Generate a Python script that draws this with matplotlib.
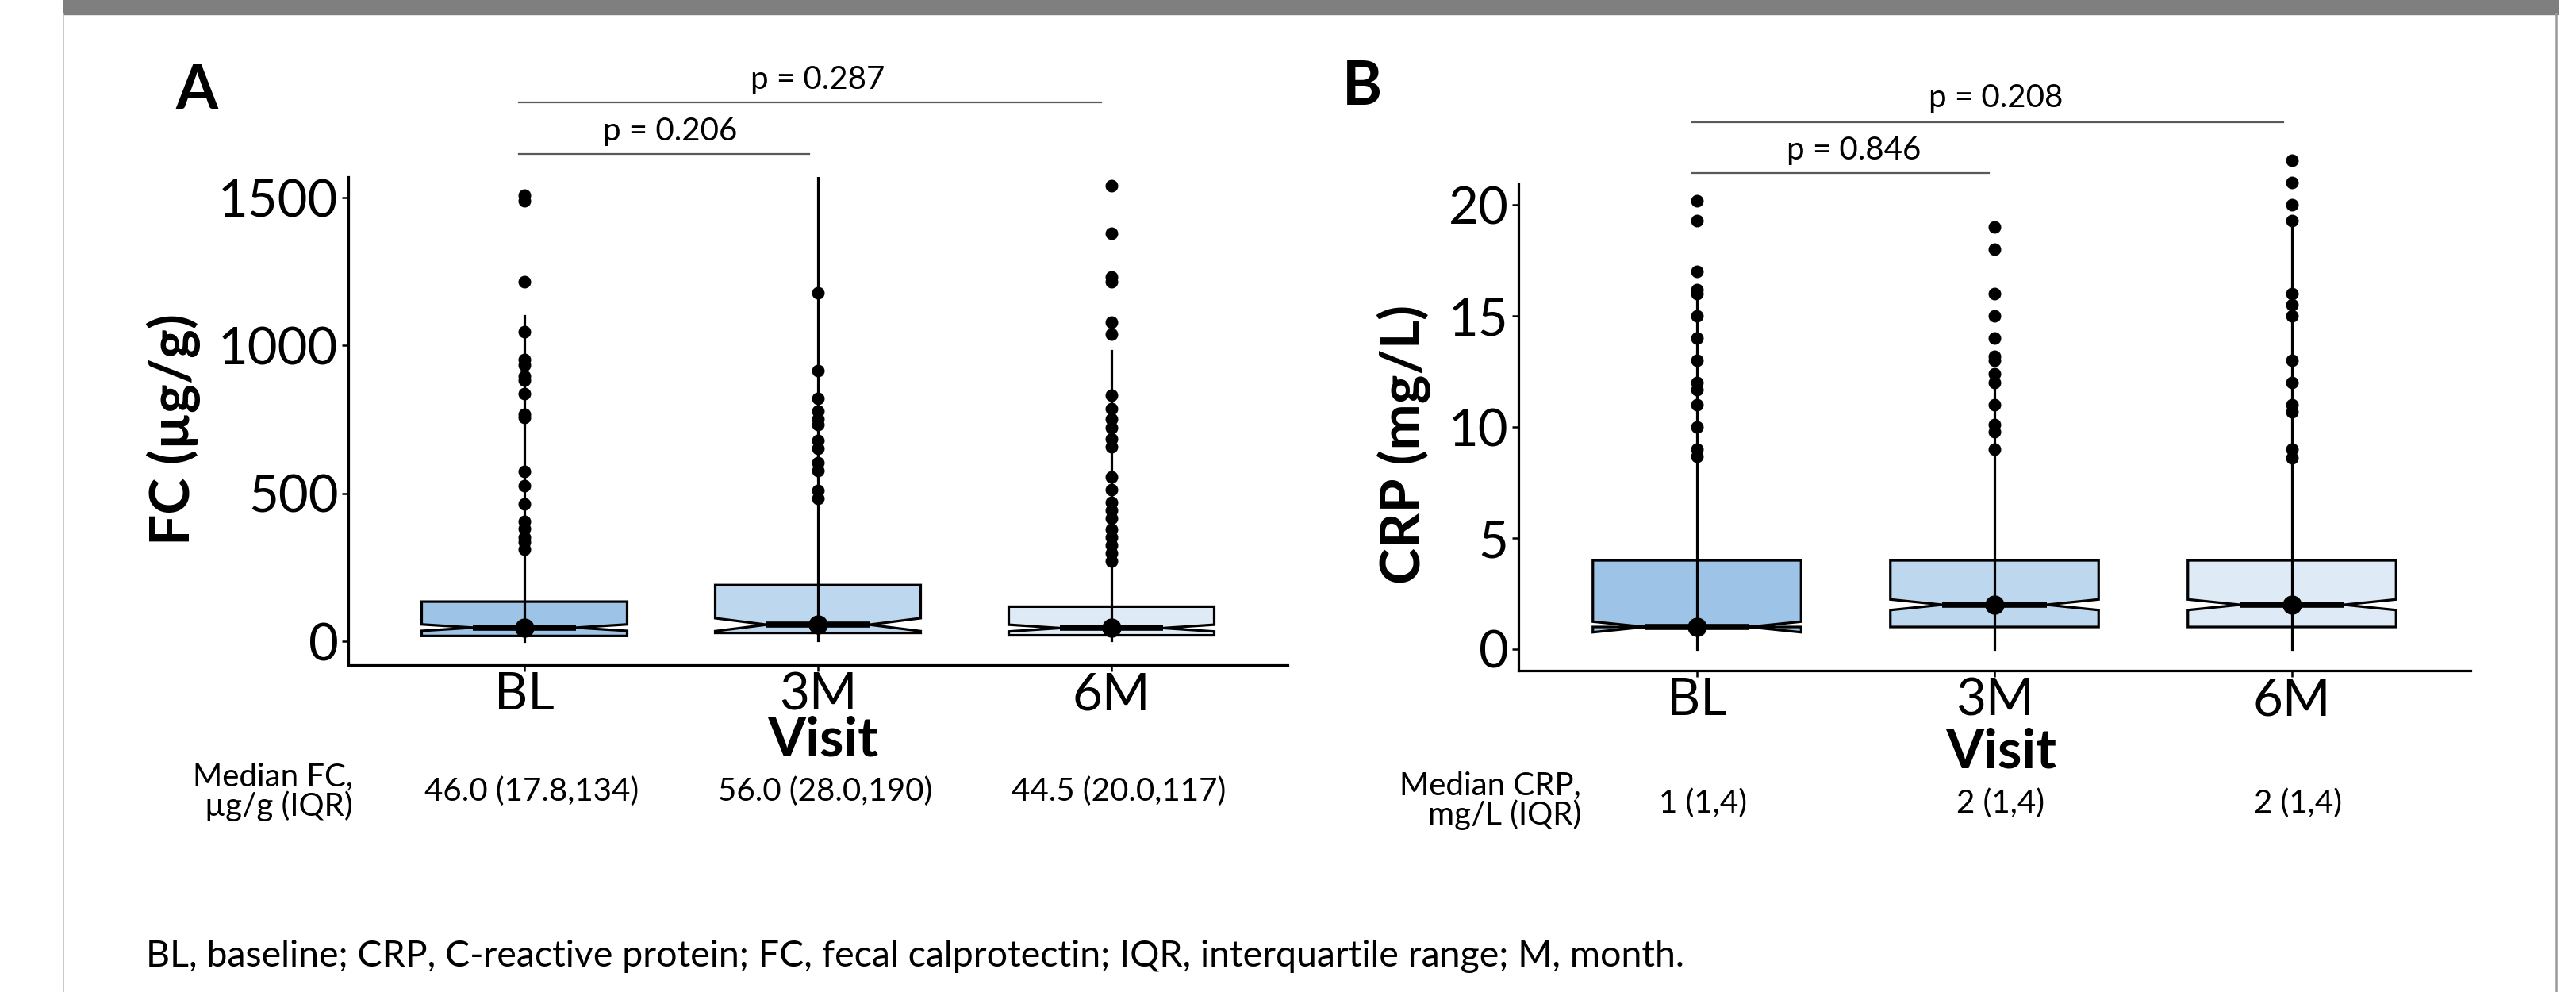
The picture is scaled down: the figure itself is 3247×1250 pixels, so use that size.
import matplotlib
matplotlib.use("Agg")
import matplotlib.pyplot as plt
import matplotlib.transforms as mtransforms
from matplotlib.patches import Polygon, Rectangle
from matplotlib.lines import Line2D

plt.rcParams['font.family'] = ['Lato', 'DejaVu Sans']

# ---- data ----
visits = ['BL', '3M', '6M']
box_colors = ['#9dc3e6', '#bdd7ee', '#deebf7']

fc_q1 = [17.8, 28.0, 20.0]
fc_med = [46.0, 56.0, 44.5]
fc_q3 = [134, 190, 117]
fc_notch_lo = [35, 34, 33]
fc_notch_hi = [57, 78, 56]
fc_whisk_lo = [0, 4, 4]
fc_whisk_hi = [1101, 1573, 981]
fc_out_bl = [1508, 1489, 1216, 1047, 952, 935, 896, 882, 838, 768, 756,
             574, 527, 463, 405, 381, 351, 335, 311]
fc_out_3m = [1177, 914, 822, 778, 752, 733, 679, 652, 604, 577, 510, 483]
fc_out_6m = [1540, 1380, 1232, 1216, 1079, 1039, 831, 787, 751, 723, 684,
             657, 555, 512, 469, 442, 416, 378, 352, 325, 298, 271]
fc_table = ['46.0 (17.8,134)', '56.0 (28.0,190)', '44.5 (20.0,117)']
fc_pvals = ['p = 0.206', 'p = 0.287']

crp_q1 = [1, 1, 1]
crp_med = [1, 2, 2]
crp_q3 = [4, 4, 4]
crp_notch_lo = [0.76, 1.76, 1.76]
crp_notch_hi = [1.24, 2.24, 2.24]
crp_whisk_lo = [0, 0, 0]
crp_whisk_hi = [16, 12, 19.3]
crp_out_bl = [20.2, 19.3, 17.0, 16.2, 16.0, 15.0, 14.0, 13.0, 12.0, 11.7,
              11.0, 10.0, 9.0, 8.7]
crp_out_3m = [19.0, 18.0, 16.0, 15.0, 14.0, 13.2, 13.0, 12.4, 12.0, 11.0,
              10.1, 9.8, 9.0]
crp_out_6m = [22.0, 21.0, 20.0, 19.3, 16.0, 15.5, 15.0, 13.0, 12.0, 11.0,
              10.7, 9.0, 8.6]
crp_table = ['1 (1,4)', '2 (1,4)', '2 (1,4)']
crp_pvals = ['p = 0.846', 'p = 0.208']

footnote = ("BL, baseline; CRP, C-reactive protein; FC, fecal calprotectin; "
            "IQR, interquartile range; M, month.")

W, H = 3247, 1250
fig = plt.figure(figsize=(W / 100, H / 100), dpi=100)


def fx(px):
    return px / W


def fy(py):
    return 1 - py / H


# page frame: grey band on top, thin borders left/right
fig.patches.append(Rectangle((fx(80), fy(17.5)), fx(3224 - 80), 17.5 / H,
                             transform=fig.transFigure, color='#7f7f7f', zorder=0))
fig.lines.append(Line2D([fx(80), fx(80)], [0, fy(17)], transform=fig.transFigure,
                        color='#bdbdbd', lw=1.2))
fig.lines.append(Line2D([fx(3222), fx(3222)], [0, fy(17)], transform=fig.transFigure,
                        color='#9a9a9a', lw=1.8))


def draw_panel(ax, q1, med, q3, nlo, nhi, wlo, whi, outs, ylim, yticks):
    half = 0.35
    for i in range(3):
        c = i + 1
        xl, xr = c - half, c + half
        il, ir = c - half * 0.5, c + half * 0.5
        verts = [(xl, q3[i]), (xl, nhi[i]), (il, med[i]), (xl, nlo[i]), (xl, q1[i]),
                 (xr, q1[i]), (xr, nlo[i]), (ir, med[i]), (xr, nhi[i]), (xr, q3[i])]
        ax.add_patch(Polygon(verts, closed=True, facecolor=box_colors[i],
                             edgecolor='black', lw=2.3, zorder=2))
        ax.plot([c, c], [wlo[i], whi[i]], color='black', lw=2.3, zorder=3)
        ax.plot([il, ir], [med[i], med[i]], color='black', lw=5.5,
                solid_capstyle='butt', zorder=4)
        ax.plot([c], [med[i]], 'o', color='black', ms=16.5, zorder=5)
        ax.plot([c] * len(outs[i]), outs[i], 'o', color='black', ms=10.5,
                zorder=5, clip_on=False)
    ax.set_xlim(0.4, 3.6)
    ax.set_ylim(*ylim)
    ax.set_xticks([1, 2, 3])
    ax.set_xticklabels(visits)
    ax.set_yticks(yticks)
    for s in ['top', 'right']:
        ax.spines[s].set_visible(False)
    for s in ['left', 'bottom']:
        ax.spines[s].set_linewidth(2.3)
    ax.tick_params(axis='both', length=6, width=1.8, labelsize=47, color='black')
    ax.tick_params(axis='x', pad=0)
    ax.tick_params(axis='y', pad=3)


def brackets(ax, spans, ys, texts, tys, txs):
    for (x0, x1), y, t, ty, tx in zip(spans, ys, texts, tys, txs):
        ax.plot([x0, x1], [y, y], color='#595959', lw=1.6, clip_on=False)
        ax.text(tx, ty, t, ha='center', va='center', fontsize=29, color='black')


# ---- panel A: FC ----
axA = fig.add_axes([fx(439), fy(838), fx(1623 - 439), (838 - 223) / H])
draw_panel(axA, fc_q1, fc_med, fc_q3, fc_notch_lo, fc_notch_hi, fc_whisk_lo,
           fc_whisk_hi, [fc_out_bl, fc_out_3m, fc_out_6m], (-80.5, 1570),
           [0, 500, 1000, 1500])
brackets(axA, [(0.98, 1.97), (0.98, 2.965)], [1648, 1822], fc_pvals,
         [1723, 1900], [1.497, 2.0])

# ---- panel B: CRP ----
axB = fig.add_axes([fx(1914), fy(845), fx(3114 - 1914), (845 - 232) / H])
draw_panel(axB, crp_q1, crp_med, crp_q3, crp_notch_lo, crp_notch_hi, crp_whisk_lo,
           crp_whisk_hi, [crp_out_bl, crp_out_3m, crp_out_6m], (-0.965, 20.94),
           [0, 5, 10, 15, 20])
brackets(axB, [(0.984, 1.98), (0.984, 2.97)], [21.44, 23.72], crp_pvals,
         [22.47, 24.83], [1.528, 2.005])

# panel letters, axis titles
fig.text(fx(248), fy(115), 'A', fontsize=55, fontweight='bold', ha='center', va='center')
fig.text(fx(1717), fy(110), 'B', fontsize=55, fontweight='bold', ha='center', va='center')
fig.text(fx(219), fy(541), 'FC (µg/g)', fontsize=50, fontweight='bold',
         rotation=90, ha='center', va='center')
fig.text(fx(1770), fy(560), 'CRP (mg/L)', fontsize=50, fontweight='bold',
         rotation=90, ha='center', va='center')
fig.text(fx(1037), fy(933), 'Visit', fontsize=50, fontweight='bold', ha='center', va='center')
fig.text(fx(2522), fy(948), 'Visit', fontsize=50, fontweight='bold', ha='center', va='center')

# median (IQR) rows under the axes
fig.text(fx(445), fy(998), 'Median FC,\nµg/g (IQR)', fontsize=29, ha='right',
         va='center', multialignment='right', linespacing=0.95)
fig.text(fx(1993), fy(1009), 'Median CRP,\nmg/L (IQR)', fontsize=29, ha='right',
         va='center', multialignment='right', linespacing=0.95)
trA = mtransforms.blended_transform_factory(axA.transData, fig.transFigure)
trB = mtransforms.blended_transform_factory(axB.transData, fig.transFigure)
for i, t in enumerate(fc_table):
    fig.text(i + 1.025, fy(997), t, fontsize=29, ha='center', va='center', transform=trA)
for i, t in enumerate(crp_table):
    fig.text(i + 1.02, fy(1012), t, fontsize=29, ha='center', va='center', transform=trB)

fig.text(fx(184), fy(1205), footnote, fontsize=33.5, ha='left', va='center')

fig.savefig('out.png', dpi=100)
